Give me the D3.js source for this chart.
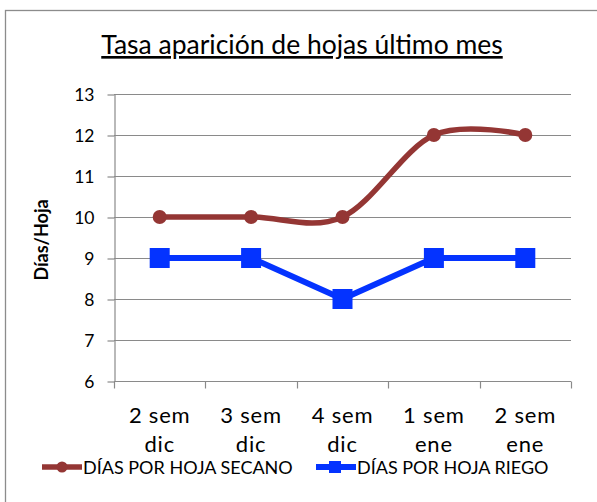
<!DOCTYPE html>
<html>
<head>
<meta charset="utf-8">
<script src="https://cdn.jsdelivr.net/npm/d3@7"></script>
<style>
    body { margin: 0; background: #fff; }
    svg { display: block; font-family: Lato, "Open Sans", sans-serif; }
</style>
</head>
<body>
<div class="div-line-plot"></div>
<script>
// DATA

var categories = ["2 sem dic", "3 sem dic", "4 sem dic", "1 sem ene", "2 sem ene"];
var secano = [10, 10, 10, 12, 12];
var riego = [9, 9, 8, 9, 9];
var yTicks = [6, 7, 8, 9, 10, 11, 12, 13];
var titleText = "Tasa aparición de hojas último mes";
var yTitle = "Días/Hoja";
var legendLabels = ["DÍAS POR HOJA SECANO", "DÍAS POR HOJA RIEGO"];

// VISUALIZATION

var width = 597;
var height = 502;
var plotLeft = 114, plotRight = 571, plotTop = 94, plotBottom = 381;

var svg = d3.select('.div-line-plot').append('svg')
    .attr('width', width)
    .attr('height', height);

// chart border (cropped on the right and bottom)
svg.append("rect")
    .attr("x", 5.5)
    .attr("y", 10.5)
    .attr("width", 700)
    .attr("height", 700)
    .attr("fill", "white")
    .attr("stroke", "#8c8c8c")
    .attr("stroke-width", 1.3);

svg.append("text")
    .attr("x", 302)
    .attr("y", 54)
    .attr("text-anchor", "middle")
    .style("font-size", "26.5px")
    .style("text-decoration", "underline")
    .attr("fill", "#000")
    .text(titleText);

var x_scale = d3.scaleBand()
    .domain(categories)
    .range([plotLeft, plotRight]);

var y_scale = d3.scaleLinear()
    .domain([6, 13])
    .range([plotBottom, plotTop]);

// grid lines
svg.append("g")
    .selectAll("line")
    .data(yTicks.slice(1))
    .join("line")
    .attr("x1", plotLeft)
    .attr("x2", plotRight)
    .attr("y1", d => Math.round(y_scale(d)) + 0.5)
    .attr("y2", d => Math.round(y_scale(d)) + 0.5)
    .attr("stroke", "#8a8a8a")
    .attr("stroke-width", 1.2);

var y_axis = d3.axisLeft(y_scale)
    .tickValues(yTicks)
    .tickFormat(d3.format("d"))
    .tickSize(7)
    .tickPadding(13)
    .tickSizeOuter(0);

var gy = svg.append("g")
    .attr("transform", "translate(" + (plotLeft + 0.5) + ",0.5)")
    .call(y_axis);
gy.selectAll("text").style("font-size", "17.5px").attr("fill", "#000")
    .attr("font-family", "Lato, sans-serif");
gy.selectAll("line, path").attr("stroke", "#8a8a8a").attr("stroke-width", 1.2);

// x axis with ticks at category boundaries
var gx = svg.append("g")
    .attr("transform", "translate(0," + (Math.round(plotBottom) + 0.5) + ")");
gx.append("line")
    .attr("x1", plotLeft)
    .attr("x2", plotRight)
    .attr("stroke", "#8a8a8a")
    .attr("stroke-width", 1.2);
var boundaries = categories.map(c => x_scale(c)).concat([plotRight]);
gx.selectAll("line.tick")
    .data(boundaries)
    .join("line")
    .attr("class", "tick")
    .attr("x1", d => Math.round(d) + 0.5)
    .attr("x2", d => Math.round(d) + 0.5)
    .attr("y1", 0)
    .attr("y2", 7)
    .attr("stroke", "#8a8a8a")
    .attr("stroke-width", 1.2);

var xLabels = gx.selectAll("text")
    .data(categories)
    .join("text")
    .attr("text-anchor", "middle")
    .style("font-size", "22px")
    .style("letter-spacing", "0.8px")
    .attr("fill", "#000");
xLabels.append("tspan")
    .attr("x", d => x_scale(d) + x_scale.bandwidth() / 2)
    .attr("y", 41)
    .text(d => d.split(" ").slice(0, 2).join(" "));
xLabels.append("tspan")
    .attr("x", d => x_scale(d) + x_scale.bandwidth() / 2)
    .attr("y", 70)
    .text(d => d.split(" ")[2]);

// y title
svg.append("text")
    .attr("transform", "translate(48,240) rotate(-90)")
    .attr("text-anchor", "middle")
    .style("font-size", "18px")
    .style("font-weight", "bold")
    .attr("fill", "#000")
    .text(yTitle);

var cx = (d, i) => x_scale(categories[i]) + x_scale.bandwidth() / 2;

var redColor = "#943634";
var blueColor = "#0433ff";

// secano line (smoothed)
var lineSmooth = d3.line()
    .x(cx)
    .y(d => y_scale(d))
    .curve(d3.curveCardinal.tension(0));

svg.append("path")
    .attr("d", lineSmooth(secano))
    .attr("fill", "none")
    .attr("stroke", redColor)
    .attr("stroke-width", 5.5);

svg.append("g")
    .selectAll("circle")
    .data(secano)
    .join("circle")
    .attr("cx", cx)
    .attr("cy", d => y_scale(d))
    .attr("r", 7)
    .attr("fill", redColor);

// riego line
var lineStraight = d3.line()
    .x(cx)
    .y(d => y_scale(d));

svg.append("path")
    .attr("d", lineStraight(riego))
    .attr("fill", "none")
    .attr("stroke", blueColor)
    .attr("stroke-width", 6);

svg.append("g")
    .selectAll("rect")
    .data(riego)
    .join("rect")
    .attr("x", (d, i) => cx(d, i) - 10)
    .attr("y", d => y_scale(d) - 10)
    .attr("width", 20)
    .attr("height", 20)
    .attr("fill", blueColor);

// legend
var legendY = 467;
var legend = svg.append("g");
legend.append("line")
    .attr("x1", 42).attr("x2", 82)
    .attr("y1", legendY).attr("y2", legendY)
    .attr("stroke", redColor).attr("stroke-width", 5.5);
legend.append("circle")
    .attr("cx", 62).attr("cy", legendY).attr("r", 5.5)
    .attr("fill", redColor);
legend.append("text")
    .attr("x", 83).attr("y", legendY + 6.5)
    .style("font-size", "18px")
    .attr("fill", "#000")
    .text(legendLabels[0]);

legend.append("line")
    .attr("x1", 316).attr("x2", 356)
    .attr("y1", legendY).attr("y2", legendY)
    .attr("stroke", blueColor).attr("stroke-width", 6);
legend.append("rect")
    .attr("x", 329).attr("y", legendY - 6).attr("width", 12).attr("height", 12)
    .attr("fill", blueColor);
legend.append("text")
    .attr("x", 357).attr("y", legendY + 6.5)
    .style("font-size", "18px")
    .attr("fill", "#000")
    .text(legendLabels[1]);
</script>
</body>
</html>
